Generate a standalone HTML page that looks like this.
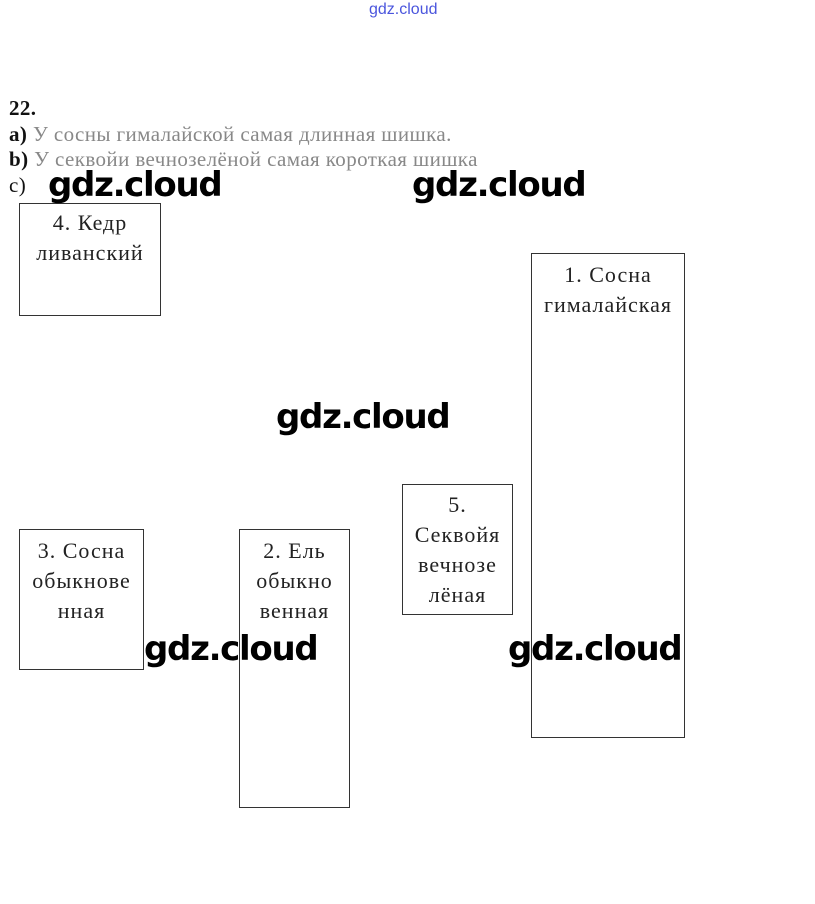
<!DOCTYPE html>
<html><head><meta charset="utf-8"><style>
body{margin:0;width:815px;height:904px;background:#fff;position:relative;overflow:hidden;font-family:"Liberation Serif",serif;}
.t{position:absolute;font-size:21px;letter-spacing:0.4px;color:#111;white-space:nowrap;}
.box{position:absolute;border:1px solid #333;box-sizing:border-box;text-align:center;font-size:22px;letter-spacing:1px;line-height:30px;color:#222;padding-top:4px;white-space:nowrap;}
.w{position:absolute;font-family:"DejaVu Sans","Liberation Sans",sans-serif;font-weight:bold;font-size:34px;color:#000;letter-spacing:-1.3px;}
</style></head><body>
<div style="position:absolute;left:369px;top:1px;font-family:'Liberation Sans',sans-serif;font-size:16px;color:#4a55dd">gdz.cloud</div>
<div class="t" style="left:9px;top:96px;font-weight:bold">22.</div>
<div class="t" style="left:9px;top:122px;color:#888"><b style="color:#111">a)</b> У сосны гималайской самая длинная шишка.</div>
<div class="t" style="left:9px;top:147px;color:#888"><b style="color:#111">b)</b> У секвойи вечнозелёной самая короткая шишка</div>
<div class="t" style="left:9px;top:173px">c)</div>
<div class="box" style="left:19px;top:203px;width:142px;height:113px">4. Кедр<br>ливанский</div>
<div class="box" style="left:531px;top:253px;width:154px;height:485px;padding-top:6px">1. Сосна<br>гималайская</div>
<div class="box" style="left:402px;top:484px;width:111px;height:131px;line-height:30px;padding-top:5px">5.<br>Секвойя<br>вечнозе<br>лёная</div>
<div class="box" style="left:19px;top:529px;width:125px;height:141px;padding-top:6px">3. Сосна<br>обыкнове<br>нная</div>
<div class="box" style="left:239px;top:529px;width:111px;height:279px;padding-top:6px">2. Ель<br>обыкно<br>венная</div>
<div class="w" style="left:48px;top:165px">gdz.cloud</div>
<div class="w" style="left:412px;top:165px">gdz.cloud</div>
<div class="w" style="left:276px;top:397px">gdz.cloud</div>
<div class="w" style="left:144px;top:629px">gdz.cloud</div>
<div class="w" style="left:508px;top:629px">gdz.cloud</div>
</body></html>
